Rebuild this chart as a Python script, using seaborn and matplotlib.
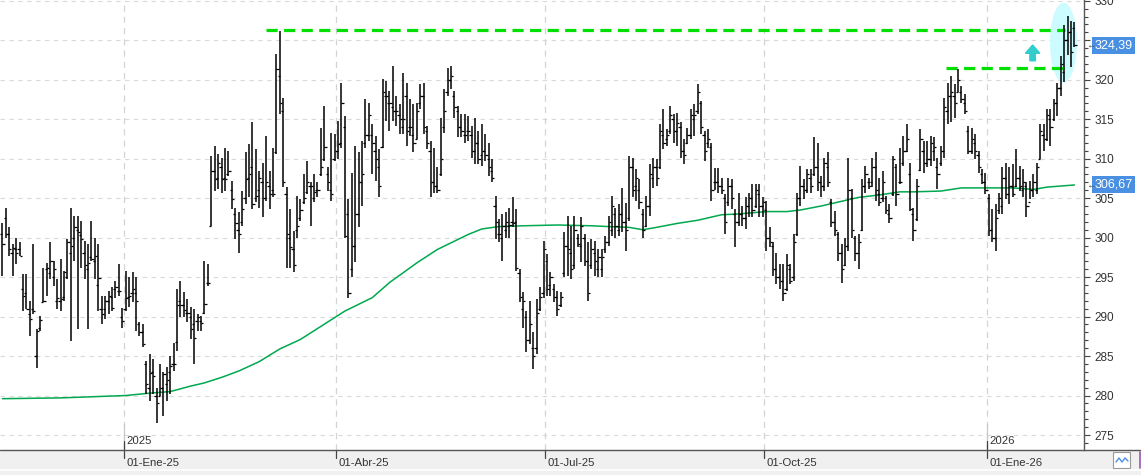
import matplotlib
matplotlib.use("Agg")
import matplotlib.pyplot as plt
import matplotlib.transforms as mtransforms
from matplotlib.patches import Ellipse, Rectangle
from matplotlib.lines import Line2D
from matplotlib.ticker import MultipleLocator
import seaborn as sns

# ---------------- data ----------------
highs = [
    301.9, 303.8, 301.3, 299.2, 300.0, 299.4, 295.4, 295.4, 292.0, 299.2,
    288.4, 290.1, 296.2, 296.8, 299.4, 297.0, 294.7, 297.3, 295.8, 299.8,
    303.8, 302.7, 302.7, 302.1, 299.6, 299.2, 302.1, 300.0, 299.2, 292.6,
    292.6, 293.2, 293.7, 294.5, 296.6, 291.1,
    295.8, 295.0, 295.6, 295.0, 289.3, 289.0, 284.4, 285.3, 284.6, 281.0,
    284.0, 283.0, 283.6, 285.0, 286.7, 293.5, 294.5, 293.1, 292.2, 291.2,
    291.0, 290.3, 290.1, 297.1, 296.6, 310.4, 311.6, 310.6, 310.1, 311.4,
    311.0, 307.2, 303.8, 303.2, 305.9, 310.8, 311.8, 314.6, 311.2, 308.5,
    309.5, 312.9, 308.5, 311.4, 323.2, 326.2, 317.7, 306.4, 303.6, 300.9,
    305.3, 304.9, 308.0, 309.7, 307.0, 308.0, 307.0, 313.9, 316.7, 308.9,
    313.3, 313.1,
    314.8, 319.6, 315.4, 304.9, 308.2, 311.6, 310.8, 312.3, 317.5, 317.1,
    314.4, 312.9, 311.2, 320.1, 319.9, 318.6, 321.8, 318.0, 316.9, 320.9,
    319.6, 317.5, 316.9, 317.1, 319.4, 319.6, 314.2, 312.3, 311.4, 308.9,
    315.2, 318.8, 321.5, 321.8, 318.6, 316.7, 315.6, 315.6, 315.4, 314.2,
    315.2, 313.5, 314.4, 313.1, 312.0, 309.9, 305.3, 302.3, 303.0, 303.2,
    303.8, 305.2, 303.6, 296.0, 293.1, 290.7, 292.0, 288.0, 292.2, 293.7,
    299.6,
    297.9, 295.6, 294.1, 293.3, 293.1, 300.7, 302.8, 301.5, 302.8, 300.4,
    302.6, 300.4, 299.4, 299.8, 299.6, 298.5, 298.5, 300.2, 302.8, 305.3,
    303.8, 304.2, 306.3, 304.4, 310.4, 310.1, 308.7, 307.4, 303.6, 305.3,
    309.3, 310.1, 309.9, 314.4, 316.3, 313.7, 316.7, 315.6, 315.8, 314.6,
    312.5, 313.9, 316.3, 316.9, 319.4, 317.3, 313.5,
    313.7, 312.0, 308.8, 308.8, 307.6, 305.5, 307.6, 307.4, 303.6, 305.7,
    304.0, 305.1, 305.7, 306.8, 306.8, 306.8, 305.1,
    304.7, 301.3, 299.4, 298.1, 296.6, 296.6, 297.9, 296.6, 300.4, 305.7,
    309.1, 307.4, 308.7, 308.7, 312.7, 312.0, 307.8, 310.1, 310.8, 304.9,
    303.4, 300.7, 299.2, 300.0, 310.1, 306.1, 300.2, 300.4, 307.4, 309.1,
    307.6, 310.1, 310.8, 307.6, 308.5, 305.3, 304.2, 310.4, 309.3,
    311.4, 312.9, 314.4, 309.5, 303.8, 307.4, 313.7, 312.3, 312.3, 312.9,
    312.7, 310.1, 311.6, 317.7, 319.6, 320.5, 319.4, 321.3, 319.2, 318.2,
    314.2, 313.9, 313.1, 311.0, 308.7, 308.2,
    305.5, 303.6, 304.2, 305.7, 308.9, 309.5, 308.9, 309.3, 311.2, 309.1,
    308.7, 307.0, 307.2, 308.0, 309.5, 314.4, 314.4, 316.3, 316.3, 317.5,
    319.6, 323.0, 326.9, 328.1, 327.5, 327.3,
]
lows = [
    295.1, 300.0, 297.7, 295.1, 296.6, 297.7, 290.7, 290.9, 287.6, 290.3,
    283.5, 288.2, 291.8, 292.6, 294.7, 293.9, 290.9, 290.7, 292.0, 294.7,
    286.9, 297.0, 288.4, 296.2, 294.7, 288.4, 297.0, 294.7, 290.7, 289.0,
    289.7, 290.3, 290.7, 292.4, 292.6, 288.6,
    290.7, 291.2, 291.8, 288.2, 287.6, 286.1, 280.2, 279.3, 280.2, 276.5,
    280.0, 277.4, 279.3, 280.2, 283.1, 285.7, 289.9, 289.9, 289.3, 287.2,
    284.0, 288.2, 288.2, 290.3, 293.9, 301.5, 305.9, 306.1, 305.7, 305.9,
    307.8, 303.6, 299.8, 298.1, 301.5, 304.2, 305.1, 303.6, 304.5, 303.8,
    302.6, 304.7, 303.6, 305.1, 310.6, 315.6, 306.4, 296.2, 296.2, 295.6,
    300.0, 302.1, 304.2, 305.5, 301.5, 304.5, 305.1, 307.8, 309.7, 305.9,
    304.7, 309.7,
    309.9, 311.4, 300.0, 292.4, 295.0, 296.9, 301.3, 304.0, 311.4, 312.3,
    308.0, 307.2, 305.1, 311.4, 314.8, 313.5, 314.8, 314.2, 313.1, 313.1,
    311.6, 312.9, 310.8, 312.5, 316.3, 313.1, 311.2, 305.1, 305.7, 305.7,
    307.8, 313.3, 318.0, 318.8, 315.2, 312.7, 312.7, 312.0, 312.3, 310.1,
    309.3, 309.3, 309.1, 309.7, 307.8, 307.0, 299.8, 299.4, 297.1, 300.0,
    300.0, 301.3, 295.8, 291.8, 288.6, 285.5, 286.5, 283.4, 285.3, 290.7,
    292.4,
    292.6, 292.6, 291.8, 290.1, 291.2, 295.0, 295.2, 294.7, 296.0, 298.8,
    296.9, 296.4, 292.0, 296.0, 295.2, 295.0, 295.0, 298.1, 299.0, 300.2,
    300.0, 300.2, 300.7, 298.3, 302.1, 305.1, 304.7, 303.6, 300.0, 301.3,
    302.8, 306.3, 306.6, 308.7, 311.2, 311.6, 313.1, 312.0, 311.6, 310.1,
    309.3, 311.8, 312.5, 312.9, 315.6, 313.1, 309.7,
    311.4, 304.7, 306.0, 305.7, 305.5, 300.4, 304.0, 303.6, 298.8, 301.5,
    301.5, 301.1, 302.6, 302.6, 303.8, 302.6, 302.6,
    298.3, 298.8, 295.2, 294.1, 293.5, 292.0, 293.3, 294.1, 294.5, 300.2,
    304.0, 304.9, 305.7, 305.7, 307.8, 305.9, 305.1, 305.9, 306.4, 301.3,
    300.2, 297.1, 294.3, 296.4, 298.3, 300.0, 297.1, 296.0, 300.9, 305.7,
    306.1, 306.4, 304.7, 304.0, 304.5, 303.0, 301.9, 305.3, 304.0,
    306.8, 309.1, 310.8, 303.4, 299.6, 302.1, 308.5, 308.2, 308.9, 309.1,
    309.7, 306.1, 309.1, 310.1, 314.4, 314.6, 315.2, 318.4, 317.1, 315.6,
    310.6, 310.6, 309.9, 308.2, 306.8, 305.5,
    300.2, 299.4, 298.3, 303.0, 303.0, 304.9, 304.2, 305.1, 306.4, 305.9,
    305.1, 302.6, 304.9, 305.1, 305.5, 309.9, 311.0, 312.3, 311.6, 314.8,
    315.4, 318.0, 319.7, 323.1, 321.6, 324.2,
]
opens = [
    300.5, 302.5, 300.4, 298.0, 298.5, 298.5, 293.5, 293.0, 290.3, 291.0,
    285.0, 288.5, 291.8, 296.0, 295.5, 295.0, 292.0, 292.0, 292.5, 295.0,
    298.0, 300.0, 301.0, 300.3, 298.0, 296.0, 297.5, 297.0, 294.0, 291.0,
    291.0, 292.0, 292.5, 293.5, 293.2, 290.0,
    291.0, 292.5, 293.0, 293.0, 289.0, 288.0, 284.0, 281.0, 283.0, 280.0,
    280.0, 281.0, 281.5, 283.0, 284.0, 286.8, 292.0, 291.5, 290.5, 290.0,
    289.0, 289.5, 289.5, 290.5, 294.2, 301.5, 308.5, 307.5, 309.0, 307.5,
    308.0, 306.0, 303.0, 301.0, 302.0, 305.0, 307.5, 309.0, 305.0, 306.0,
    307.0, 305.0, 306.5, 306.0, 310.8, 320.5, 316.0, 305.5, 300.0, 298.5,
    301.0, 302.5, 304.5, 305.8, 306.5, 305.0, 306.0, 308.0, 310.0, 308.0,
    306.0, 310.0,
    311.0, 312.0, 314.0, 303.0, 296.0, 299.0, 303.0, 307.0, 312.0, 313.0,
    313.0, 311.0, 309.0, 311.5, 318.0, 317.0, 316.5, 316.0, 315.5, 314.0,
    318.0, 314.0, 313.0, 312.5, 317.0, 318.0, 313.5, 311.0, 307.0, 306.5,
    308.0, 314.0, 318.5, 320.0, 318.0, 316.0, 314.0, 313.0, 313.5, 313.0,
    311.0, 312.0, 310.5, 311.0, 310.0, 308.5, 304.0, 300.5, 300.0, 301.0,
    301.5, 302.0, 302.0, 295.5, 291.0, 290.0, 287.0, 286.0, 286.0, 291.0,
    293.0,
    297.0, 294.0, 293.5, 292.5, 291.5, 295.5, 299.0, 298.0, 296.5, 300.0,
    299.0, 300.0, 297.0, 296.5, 298.0, 296.0, 296.0, 298.5, 299.5, 301.0,
    303.0, 301.0, 303.0, 302.0, 302.5, 309.0, 306.5, 306.0, 303.0, 301.5,
    304.0, 307.5, 309.0, 309.0, 313.0, 312.5, 313.5, 315.0, 313.5, 314.0,
    311.0, 312.0, 313.0, 315.0, 316.0, 317.0, 313.0,
    312.0, 311.5, 307.0, 307.0, 306.5, 305.0, 304.5, 306.5, 303.0, 302.0,
    303.0, 302.5, 304.0, 305.0, 304.0, 305.5, 304.0,
    303.5, 300.0, 299.0, 296.0, 295.0, 294.5, 293.5, 296.0, 295.0, 300.5,
    305.0, 306.5, 306.0, 307.5, 308.0, 309.0, 307.0, 306.5, 309.0, 304.5,
    302.0, 300.5, 298.0, 296.5, 299.0, 305.0, 300.0, 298.0, 301.0, 306.5,
    307.0, 307.0, 309.0, 305.5, 305.0, 305.0, 303.0, 305.5, 309.0,
    307.0, 309.5, 311.0, 308.0, 303.0, 302.3, 308.6, 311.0, 309.5, 310.0,
    311.0, 309.0, 309.5, 311.0, 316.0, 318.0, 318.0, 318.5, 318.5, 317.0,
    313.5, 311.0, 312.0, 310.5, 308.0, 307.0,
    305.0, 301.0, 300.0, 303.5, 304.0, 307.5, 305.5, 306.5, 306.5, 307.5,
    306.0, 306.5, 304.5, 306.0, 306.0, 310.0, 313.0, 312.5, 315.0, 315.0,
    317.0, 319.0, 321.0, 325.0, 326.0, 326.5,
]
closes = [
    299.2, 300.5, 298.5, 298.7, 298.0, 297.7, 292.6, 291.0, 289.7, 290.7,
    288.2, 289.6, 292.0, 296.2, 297.0, 296.0, 292.4, 292.2, 295.6, 299.4,
    298.9, 301.4, 300.7, 299.8, 296.5, 296.8, 297.3, 297.7, 294.9, 290.3,
    292.0, 292.6, 291.1, 293.7, 293.2, 289.4,
    292.4, 292.6, 293.5, 292.0, 288.0, 286.5, 281.5, 282.8, 282.5, 279.0,
    281.0, 282.7, 282.0, 283.8, 284.0, 291.5, 291.5, 290.8, 290.4, 288.4,
    287.3, 289.9, 289.2, 291.6, 294.2, 308.4, 307.4, 309.5, 307.4, 307.4,
    308.4, 304.9, 301.9, 300.4, 303.6, 307.4, 308.0, 304.2, 305.3, 307.6,
    305.0, 307.0, 305.5, 305.5, 321.3, 317.0, 307.0, 300.5, 298.8, 296.5,
    301.5, 303.5, 305.0, 307.0, 306.5, 305.8, 306.0, 309.0, 311.5, 307.0,
    305.5, 311.0,
    311.8, 317.0, 300.2, 293.0, 299.0, 303.0, 307.0, 308.0, 313.0, 315.5,
    312.0, 310.0, 306.5, 318.5, 318.0, 317.0, 316.0, 316.0, 315.0, 315.0,
    313.5, 314.0, 312.0, 316.0, 318.0, 314.0, 312.0, 307.0, 306.5, 306.0,
    310.0, 316.0, 320.0, 320.5, 316.5, 314.0, 313.5, 313.0, 313.5, 311.0,
    312.0, 310.0, 311.0, 310.5, 309.0, 307.5, 302.0, 300.5, 301.5, 302.0,
    301.6, 301.8, 296.2, 292.5, 292.0, 287.0, 289.0, 285.0, 290.5, 292.5,
    298.5,
    293.5, 295.0, 292.5, 291.0, 292.5, 299.0, 298.5, 296.0, 301.0, 299.2,
    301.5, 297.0, 293.0, 298.5, 297.0, 297.5, 297.5, 299.5, 302.0, 304.0,
    301.5, 303.0, 302.0, 301.0, 309.0, 306.0, 307.5, 304.5, 301.0, 304.0,
    308.0, 309.0, 307.5, 313.5, 312.0, 313.0, 315.5, 313.5, 314.5, 311.0,
    310.5, 313.0, 315.5, 315.5, 318.5, 314.0, 311.0,
    312.5, 306.0, 307.0, 306.5, 306.0, 302.0, 306.5, 305.0, 302.0, 303.0,
    302.5, 304.0, 305.0, 303.5, 306.0, 304.0, 304.5,
    300.0, 299.5, 296.0, 295.0, 294.5, 293.0, 296.5, 294.5, 299.5, 305.0,
    306.5, 306.0, 308.0, 306.5, 309.0, 307.0, 306.5, 309.5, 307.0, 302.0,
    301.0, 298.0, 296.0, 299.0, 306.0, 301.0, 298.0, 299.5, 306.5, 308.0,
    306.5, 309.0, 306.0, 304.5, 307.0, 303.5, 302.5, 310.0, 305.5,
    307.0, 311.0, 312.5, 303.6, 301.0, 306.5, 312.5, 309.5, 310.0, 312.0,
    311.5, 308.0, 311.0, 316.5, 318.0, 318.5, 317.0, 320.0, 317.5, 316.0,
    311.0, 312.5, 311.0, 309.0, 307.0, 306.0,
    301.0, 300.0, 302.5, 305.0, 307.5, 305.5, 306.5, 305.5, 307.5, 306.5,
    307.0, 304.0, 306.0, 307.0, 309.0, 313.5, 312.5, 315.5, 314.0, 317.0,
    319.0, 322.0, 325.0, 326.0, 323.5, 324.39,
]

# moving average read at sample bars
ma_idx = [0, 17, 36, 43, 49, 55, 59, 64, 69, 75, 81, 87, 100, 108, 113, 121,
          127, 136, 140, 145, 152, 162, 172, 177, 183, 187, 191, 197, 203,
          210, 215, 223, 229, 233, 239, 245, 250, 256, 262, 266, 274, 280,
          289, 295, 301, 305, 313]
ma_val = [279.6, 279.7, 280.0, 280.3, 280.5, 281.2, 281.6, 282.3, 283.1,
          284.3, 285.9, 287.1, 290.7, 292.4, 294.3, 296.8, 298.5, 300.4,
          301.1, 301.4, 301.5, 301.6, 301.5, 301.4, 301.3, 301.0, 301.3,
          301.8, 302.2, 302.9, 303.0, 303.3, 303.3, 303.5, 304.0, 304.6,
          305.1, 305.4, 305.8, 305.8, 305.9, 306.3, 306.3, 306.3, 306.1,
          306.4, 306.67]

date_pos = [35.5, 97.5, 158.5, 222.5, 287.5]
date_labels = ["01-Ene-25", "01-Abr-25", "01-Jul-25", "01-Oct-25", "01-Ene-26"]
year_pos = [35.5, 287.5]
year_labels = ["2025", "2026"]
y_ticks = [275, 280, 285, 290, 295, 300, 305, 310, 315, 320, 325, 330]
y_tick_labels = ["275", "280", "285", "290", "295", "300", "305", "310",
                 "315", "320", "", "330"]   # 325 is hidden under the price box

resist_high = 326.3
resist_high_span = [77, 310.2]
resist_low = 321.5
resist_low_span = [275.5, 310.2]
last_price = 324.39
last_ma = 306.67
last_price_label = "324,39"
last_ma_label = "306,67"

# ---------------- figure ----------------
sns.set_theme(style="white")
plt.rcParams['font.family'] = ['Liberation Sans', 'DejaVu Sans']

W, H = 1141, 475
fig = plt.figure(figsize=(W / 100, H / 100), dpi=100)
fig.patch.set_facecolor("white")
fig.patches.append(Rectangle((0, 0), 1, 25 / H, transform=fig.transFigure,
                             facecolor="#f0f0f0", edgecolor="none", zorder=-10))
fig.lines.append(Line2D([0, 1], [5 / H, 5 / H], transform=fig.transFigure,
                        color="white", lw=1.2, zorder=-9))

ax = fig.add_axes([0, 25 / H, 1084 / W, 450 / H])
ax.set_facecolor("white")
ax.set_xlim(-0.7, 315.8)
ax.set_ylim(273.1, 330.1)

# grid
for yv in y_ticks:
    ax.axhline(yv, color="#dadada", lw=0.8, ls=(0, (4, 4)), zorder=0)
for xv in date_pos:
    ax.axvline(xv, color="#d4d4d4", lw=0.9, ls=(0, (5, 4)), zorder=0)

trans = mtransforms.blended_transform_factory(ax.transData, ax.transAxes)

# highlight ellipse
ax.add_patch(Ellipse((309.8, 324.7), width=7.9, height=10.1,
                     facecolor="#ccfcff", edgecolor="none", zorder=1))

# moving average
sns.lineplot(x=ma_idx, y=ma_val, ax=ax, color="#00a84f", lw=1.1, zorder=2,
             legend=False)

# resistance lines
ax.plot(resist_high_span, [resist_high, resist_high], color="#00e000", lw=2.3,
        ls=(0, (3.5, 2.0)), zorder=2, solid_capstyle="butt")
ax.plot(resist_low_span, [resist_low, resist_low], color="#00e000", lw=2.3,
        ls=(0, (3.5, 2.0)), zorder=2, solid_capstyle="butt")

# OHLC bars
idx = list(range(len(highs)))
ax.vlines(idx, lows, highs, color="black", lw=1.1, zorder=3)
ax.hlines(opens, [i - 0.65 for i in idx], idx, color="black", lw=0.9, zorder=3)
ax.hlines(closes, idx, [i + 0.65 for i in idx], color="black", lw=0.9, zorder=3)

# up arrow
ax.arrow(300.8, 322.4, 0, 2.0, width=1.6, head_width=4.2, head_length=1.05,
         length_includes_head=True, color="#33cccc", zorder=3)

# axes styling
for s in ["top", "left", "bottom"]:
    ax.spines[s].set_visible(False)
ax.spines["right"].set_color("#555555")
ax.spines["right"].set_linewidth(1.0)
fig.lines.append(Line2D([0, 1], [25 / H, 25 / H], transform=fig.transFigure,
                        color="#555555", lw=1.0, zorder=5))

ax.set_xticks([])
ax.yaxis.tick_right()
ax.set_yticks(y_ticks)
ax.set_yticklabels(y_tick_labels)
ax.yaxis.set_minor_locator(MultipleLocator(1))
ax.tick_params(axis="y", which="major", right=True, left=False, length=4.5,
               width=0.8, color="#444444", labelsize=8.5, labelcolor="#333333",
               pad=3)
ax.tick_params(axis="y", which="minor", right=True, left=False, length=3,
               width=0.8, color="#444444")

# date labels and ticks
for pos, lab in zip(date_pos, date_labels):
    ax.plot([pos, pos], [0, -0.018], transform=trans, color="#444444", lw=0.9,
            clip_on=False, zorder=5)
    ax.text(pos + 0.6, -0.03, lab, transform=trans, fontsize=8.2,
            color="#333333", ha="left", va="center", clip_on=False, zorder=6)
for pos, lab in zip(year_pos, year_labels):
    ax.plot([pos, pos], [0, 0.058], transform=trans, color="#c8c8c8", lw=0.9,
            zorder=1)
    ax.plot([pos, pos], [0, 0.02], transform=trans, color="#444444", lw=0.9,
            zorder=5)
    ax.text(pos + 0.6, 0.021, lab, transform=trans, fontsize=8.2,
            color="#333333", ha="left", va="center")

# last value boxes
ytr = ax.get_yaxis_transform()
for val, lab in [(last_price, last_price_label), (last_ma, last_ma_label)]:
    ax.text(1.0095, val, lab, transform=ytr, fontsize=9, color="white",
            ha="left", va="center", clip_on=False, zorder=6,
            bbox=dict(boxstyle="square,pad=0.2", facecolor="#4a90e2",
                      edgecolor="none"))
    ax.text(1.0015, val, "\u2190", transform=ytr, fontsize=7, color="#555555",
            ha="left", va="center", clip_on=False, zorder=6)

# small toolbar icons bottom-right
fig.patches.append(Rectangle((1113 / W, 7 / H), 17 / W, 16 / H,
                             transform=fig.transFigure, facecolor="white",
                             edgecolor="#9a9a9a", lw=0.8, zorder=6))
fig.lines.append(Line2D([1116 / W, 1119 / W, 1122 / W, 1125 / W, 1128 / W],
                        [13 / H, 17 / H, 13 / H, 17 / H, 14 / H],
                        transform=fig.transFigure, color="#4a90e2", lw=1,
                        zorder=7))
fig.lines.append(Line2D([1139.5 / W, 1139.5 / W], [7 / H, 23 / H],
                        transform=fig.transFigure, color="#9b59b6", lw=1.2,
                        zorder=7))

fig.savefig("out.png", dpi=100, facecolor=fig.get_facecolor())
